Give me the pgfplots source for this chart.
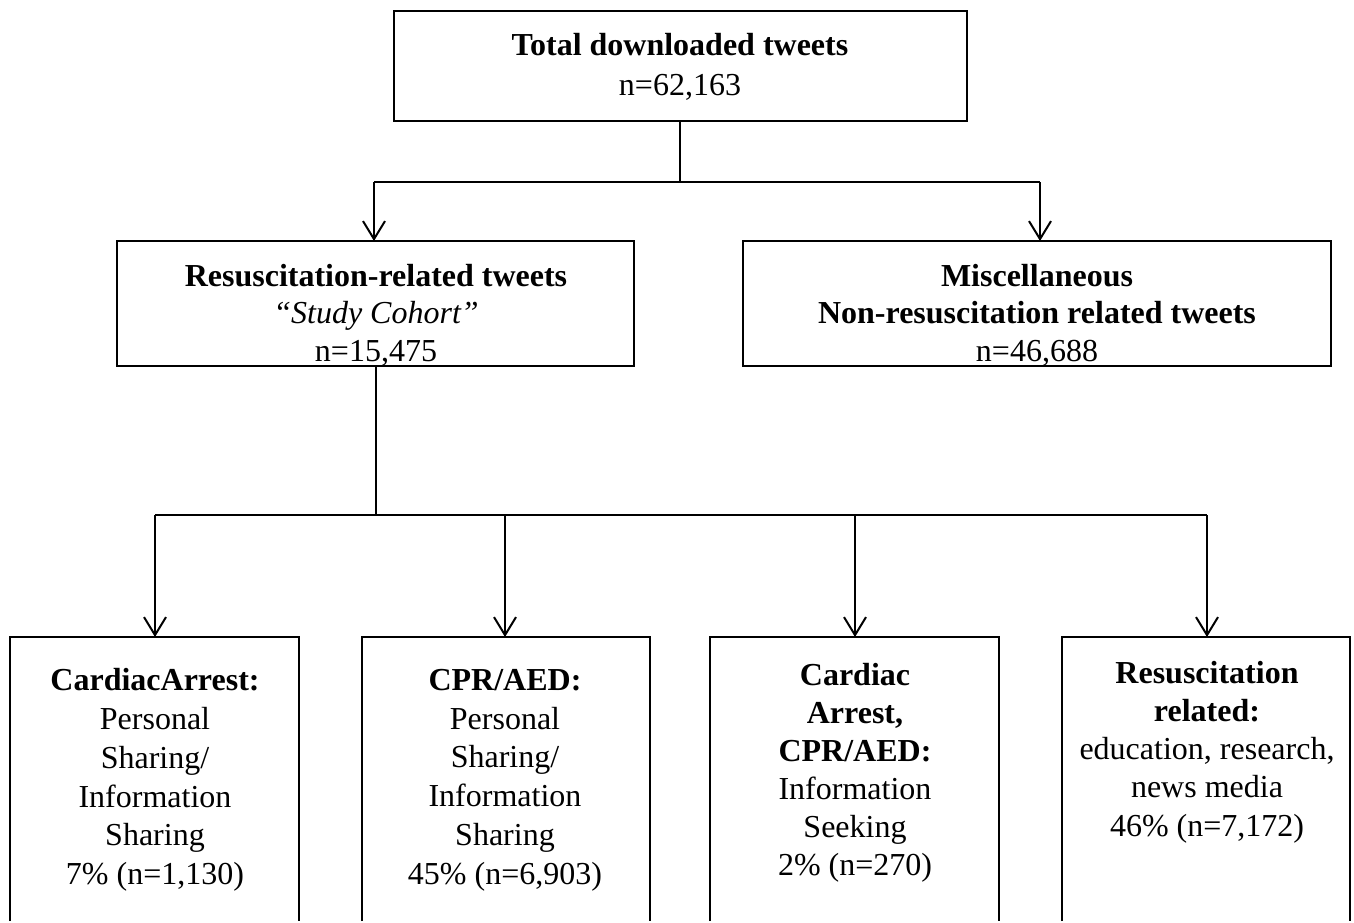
\documentclass[border=0pt]{standalone}
\usepackage{pgfplots}
\pgfplotsset{compat=1.18}
\usepackage{fontspec}
\setmainfont{Liberation Serif}
\usetikzlibrary{arrows.meta}
\begin{document}
\begin{tikzpicture}
\begin{axis}[scale only axis, width=677pt, height=460pt,
  xmin=0, xmax=1354, ymin=0, ymax=920, y dir=reverse,
  hide axis, clip=false]
\path (axis cs:0,0) rectangle (axis cs:1354,920);
\tikzset{bx/.style={line width=1.3pt},
  ar/.style={line width=1.2pt,-{Straight Barb[length=9pt,width=11pt,line width=1pt]}},
  tx/.style={align=center,inner sep=0pt,font=\fontsize{16}{19.2}\selectfont}}
% boxes
\draw[bx] (axis cs:394,11) rectangle (axis cs:967,121);
\draw[bx] (axis cs:117,241) rectangle (axis cs:634,366);
\draw[bx] (axis cs:743,241) rectangle (axis cs:1331,366);
\draw[bx] (axis cs:10,921)--(axis cs:10,637)--(axis cs:299,637)--(axis cs:299,921);
\draw[bx] (axis cs:362,921)--(axis cs:362,637)--(axis cs:650,637)--(axis cs:650,921);
\draw[bx] (axis cs:710,921)--(axis cs:710,637)--(axis cs:999,637)--(axis cs:999,921);
\draw[bx] (axis cs:1062,921)--(axis cs:1062,637)--(axis cs:1350,637)--(axis cs:1350,921);
% connectors
\draw[line width=1.2pt] (axis cs:680,121)--(axis cs:680,182);
\draw[line width=1.2pt] (axis cs:374,182)--(axis cs:1040,182);
\draw[ar] (axis cs:374,182)--(axis cs:374,241);
\draw[ar] (axis cs:1040,182)--(axis cs:1040,241);
\draw[line width=1.2pt] (axis cs:376,366)--(axis cs:376,515);
\draw[line width=1.2pt] (axis cs:155,515)--(axis cs:1207,515);
\draw[ar] (axis cs:155,515)--(axis cs:155,637);
\draw[ar] (axis cs:505,515)--(axis cs:505,637);
\draw[ar] (axis cs:855,515)--(axis cs:855,637);
\draw[ar] (axis cs:1207,515)--(axis cs:1207,637);
% texts
\node[tx,font=\fontsize{16}{20}\selectfont] at (axis cs:680,67) {\textbf{Total downloaded tweets}\\n=62,163};
\node[tx,font=\fontsize{16}{18.75}\selectfont] at (axis cs:376,315) {\textbf{Resuscitation-related tweets}\\\textit{``Study Cohort''}\\n=15,475};
\node[tx,font=\fontsize{16}{18.75}\selectfont] at (axis cs:1037,315) {\textbf{Miscellaneous}\\\textbf{Non-resuscitation related tweets}\\n=46,688};
\node[tx,font=\fontsize{16}{19.4}\selectfont] at (axis cs:155,780) {\textbf{CardiacArrest:}\\Personal\\Sharing/\\Information\\Sharing\\7\% (n=1,130)};
\node[tx,font=\fontsize{16}{19.4}\selectfont] at (axis cs:505,780) {\textbf{CPR/AED:}\\Personal\\Sharing/\\Information\\Sharing\\45\% (n=6,903)};
\node[tx,font=\fontsize{16}{19}\selectfont] at (axis cs:855,773) {\textbf{Cardiac}\\\textbf{Arrest,}\\\textbf{CPR/AED:}\\Information\\Seeking\\2\% (n=270)};
\node[tx,font=\fontsize{16}{19.1}\selectfont] at (axis cs:1207,752) {\textbf{Resuscitation}\\\textbf{related:}\\education, research,\\news media\\46\% (n=7,172)};
\end{axis}
\end{tikzpicture}
\end{document}
